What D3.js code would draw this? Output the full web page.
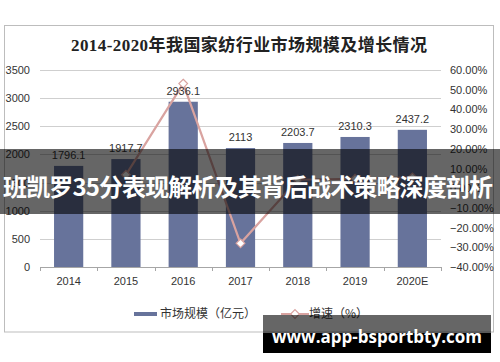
<!DOCTYPE html>
<html>
<head>
<meta charset="utf-8">
<script src="https://cdn.jsdelivr.net/npm/d3@7"></script>
<style>
  html, body { margin: 0; padding: 0; background: #fff; }
  svg { display: block; }
</style>
</head>
<body>
<div id="chart"></div>
<script>
// data
const years = ["2014", "2015", "2016", "2017", "2018", "2019", "2020E"]
const marketSize = [1796.1, 1917.7, 2936.1, 2113, 2203.7, 2310.3, 2437.2]
const growth = [null, 6.8, 53.1, -28.0, 4.3, 4.8, 5.5]   // percent
const leftTicks = [0, 500, 1000, 1500, 2000, 2500, 3000, 3500]
const rightTicks = [-40, -30, -20, -10, 0, 10, 20, 30, 40, 50, 60]

const title = "2014-2020年我国家纺行业市场规模及增长情况"
const legendLabels = ["市场规模（亿元）", "增速（%）"]
const bannerText = "班凯罗35分表现解析及其背后战术策略深度剖析"
const siteText = "www.app-bsportbty.com"

const width = 500, height = 362
const barColor = "#67739b", lineColor = "#d9a3a0"
const sans = "'Liberation Sans', Arial, 'Noto Sans CJK SC', sans-serif"

const svg = d3.select("#chart").append("svg")
    .attr("width", width)
    .attr("height", height)

// chart frame
svg.append("rect")
    .attr("x", 4.5).attr("y", 25.5)
    .attr("width", 489).attr("height", 306.5)
    .attr("fill", "#fff")
    .attr("stroke", "#bdbdbd")

svg.append("text")
    .attr("x", 249).attr("y", 51)
    .attr("text-anchor", "middle")
    .attr("font-family", "'Liberation Serif', 'DejaVu Serif', 'Noto Sans CJK SC', serif")
    .attr("font-weight", "bold")
    .attr("font-size", 17)
    .attr("textLength", 356)
    .attr("fill", "#222")
    .text(title)

const x = d3.scaleBand()
    .domain(years)
    .range([40, 441])
    .paddingInner(0.49)
    .paddingOuter(0.245)

const yL = d3.scaleLinear().domain([0, 3500]).range([267, 70])
const yR = d3.scaleLinear().domain([-40, 60]).range([267, 70])

// gridlines
svg.append("g")
    .selectAll("line")
    .data(leftTicks.filter(d => d > 0))
    .enter().append("line")
        .attr("x1", 40).attr("x2", 441)
        .attr("y1", d => Math.round(yL(d)) + 0.5)
        .attr("y2", d => Math.round(yL(d)) + 0.5)
        .attr("stroke", "#cfcfcf")

// left axis labels
svg.append("g")
    .selectAll("text")
    .data(leftTicks)
    .enter().append("text")
        .attr("x", 30)
        .attr("y", d => yL(d) + 4)
        .attr("text-anchor", "end")
        .attr("font-family", sans)
        .attr("font-size", 11)
        .attr("fill", "#333")
        .text(d => d)

// right axis labels
svg.append("g")
    .selectAll("text")
    .data(rightTicks)
    .enter().append("text")
        .attr("x", 450)
        .attr("y", d => yR(d) + 4)
        .attr("font-family", sans)
        .attr("font-size", 11)
        .attr("fill", "#333")
        .text(d => d3.format(".2f")(d) + "%")

// bars
svg.append("g")
    .selectAll("rect")
    .data(years)
    .enter().append("rect")
        .attr("x", d => x(d))
        .attr("y", (d, i) => yL(marketSize[i]))
        .attr("width", x.bandwidth())
        .attr("height", (d, i) => yL(0) - yL(marketSize[i]))
        .attr("fill", barColor)

// bottom axis
const xAxis = svg.append("g")
xAxis.append("line")
    .attr("x1", 40).attr("x2", 441)
    .attr("y1", 267.5).attr("y2", 267.5)
    .attr("stroke", "#a6a6a6")
xAxis.selectAll("line.tick")
    .data(d3.range(years.length + 1))
    .enter().append("line")
        .attr("class", "tick")
        .attr("x1", i => Math.round(40 + i * (401 / years.length)) + 0.5)
        .attr("x2", i => Math.round(40 + i * (401 / years.length)) + 0.5)
        .attr("y1", 267).attr("y2", 271)
        .attr("stroke", "#a6a6a6")
xAxis.selectAll("text")
    .data(years)
    .enter().append("text")
        .attr("x", d => x(d) + x.bandwidth() / 2)
        .attr("y", 285)
        .attr("text-anchor", "middle")
        .attr("font-family", sans)
        .attr("font-size", 11)
        .attr("fill", "#333")
        .text(d => d)

// growth line
const pts = years.map((d, i) => ({ year: d, v: growth[i] })).filter(d => d.v != null)
const line = d3.line()
    .x(d => x(d.year) + x.bandwidth() / 2)
    .y(d => yR(d.v))
svg.append("path")
    .datum(pts)
    .attr("d", line)
    .attr("fill", "none")
    .attr("stroke", lineColor)
    .attr("stroke-width", 2.2)

const diamond = d3.symbol().type(d3.symbolDiamond2).size(48)
svg.append("g")
    .selectAll("path")
    .data(pts)
    .enter().append("path")
        .attr("d", diamond)
        .attr("transform", d => `translate(${x(d.year) + x.bandwidth() / 2},${yR(d.v)})`)
        .attr("fill", "#fff")
        .attr("stroke", lineColor)
        .attr("stroke-width", 1.2)

// bar value labels
svg.append("g")
    .selectAll("text")
    .data(years)
    .enter().append("text")
        .attr("x", d => x(d) + x.bandwidth() / 2)
        .attr("y", (d, i) => yL(marketSize[i]) - 7)
        .attr("text-anchor", "middle")
        .attr("font-family", sans)
        .attr("font-size", 11)
        .attr("fill", "#333")
        .text((d, i) => marketSize[i])

// legend
const legend = svg.append("g")
legend.append("rect")
    .attr("x", 134).attr("y", 312)
    .attr("width", 23).attr("height", 4)
    .attr("fill", barColor)
legend.append("text")
    .attr("x", 160).attr("y", 318)
    .attr("font-family", "'Noto Sans CJK SC', sans-serif")
    .attr("font-size", 12)
    .attr("fill", "#333")
    .text(legendLabels[0])
legend.append("line")
    .attr("x1", 281).attr("x2", 309)
    .attr("y1", 314).attr("y2", 314)
    .attr("stroke", lineColor)
    .attr("stroke-width", 2)
legend.append("path")
    .attr("d", diamond)
    .attr("transform", "translate(295,314)")
    .attr("fill", "#fff")
    .attr("stroke", lineColor)
    .attr("stroke-width", 1.2)
legend.append("text")
    .attr("x", 309).attr("y", 318)
    .attr("font-family", "'Noto Sans CJK SC', sans-serif")
    .attr("font-size", 12)
    .attr("fill", "#333")
    .text(legendLabels[1])

// overlay banner
svg.append("rect")
    .attr("x", 0).attr("y", 149)
    .attr("width", width).attr("height", 65)
    .attr("fill", "rgba(0,0,0,0.6)")
svg.append("text")
    .attr("x", 248).attr("y", 196)
    .attr("text-anchor", "middle")
    .attr("font-family", "'Noto Sans CJK SC', sans-serif")
    .attr("font-weight", "bold")
    .attr("font-size", 24)
    .attr("textLength", 490)
    .attr("fill", "#fff")
    .text(bannerText)

// site watermark
svg.append("rect")
    .attr("x", 263).attr("y", 315)
    .attr("width", 228).attr("height", 18)
    .attr("fill", "rgba(0,0,0,0.6)")
svg.append("rect")
    .attr("x", 263).attr("y", 333)
    .attr("width", 228).attr("height", 20)
    .attr("fill", "#000")
svg.append("text")
    .attr("x", 377).attr("y", 343)
    .attr("text-anchor", "middle")
    .attr("font-family", "'Open Sans', 'DejaVu Sans', sans-serif")
    .attr("font-weight", "bold")
    .attr("font-size", 17)
    .attr("fill", "#fff")
    .text(siteText)
</script>
</body>
</html>
